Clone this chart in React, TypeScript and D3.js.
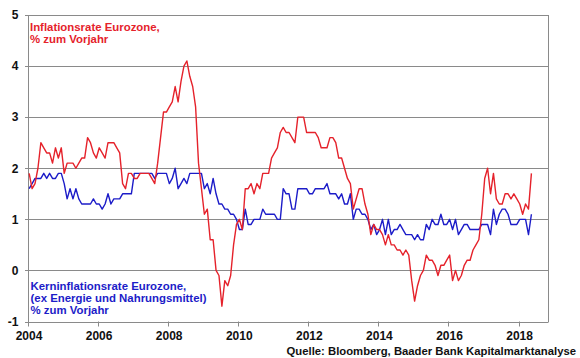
import React from "react";
import * as d3 from "d3";

// Monthly values, Jan 2004 .. May 2018
const startYear = 2004;
const headline: number[] = [
  1.9, 1.6, 1.7, 2.0, 2.5, 2.4, 2.3, 2.3, 2.1, 2.4, 2.2, 2.4,
  1.9, 2.1, 2.1, 2.1, 2.0, 2.1, 2.2, 2.2, 2.6, 2.5, 2.3, 2.2,
  2.4, 2.3, 2.2, 2.5, 2.5, 2.5, 2.4, 2.3, 1.7, 1.6, 1.9, 1.9,
  1.8, 1.8, 1.9, 1.9, 1.9, 1.9, 1.8, 1.7, 2.1, 2.6, 3.1, 3.1,
  3.2, 3.3, 3.6, 3.3, 3.7, 4.0, 4.1, 3.8, 3.6, 3.2, 2.1, 1.6,
  1.1, 1.2, 0.6, 0.6, 0.0, -0.1, -0.7, -0.2, -0.3, -0.1, 0.5, 0.9,
  1.0, 0.8, 1.6, 1.6, 1.7, 1.5, 1.7, 1.6, 1.9, 1.9, 1.9, 2.2,
  2.3, 2.4, 2.7, 2.8, 2.7, 2.7, 2.6, 2.5, 3.0, 3.0, 3.0, 2.7,
  2.7, 2.7, 2.7, 2.6, 2.4, 2.4, 2.4, 2.6, 2.6, 2.5, 2.2, 2.2,
  2.0, 1.8, 1.7, 1.2, 1.4, 1.6, 1.6, 1.3, 1.1, 0.7, 0.9, 0.8,
  0.8, 0.7, 0.5, 0.7, 0.5, 0.5, 0.4, 0.4, 0.3, 0.4, 0.3, -0.2,
  -0.6, -0.3, -0.1, 0.0, 0.3, 0.2, 0.2, 0.1, -0.1, 0.1, 0.1, 0.2,
  0.3, -0.2, 0.0, -0.2, -0.1, 0.1, 0.2, 0.2, 0.4, 0.5, 0.6, 1.1,
  1.8, 2.0, 1.5, 1.9, 1.4, 1.3, 1.3, 1.5, 1.5, 1.4, 1.5, 1.4,
  1.3, 1.1, 1.3, 1.2, 1.9,
];
const core: number[] = [
  1.6, 1.7, 1.8, 1.8, 1.8, 1.9, 1.8, 1.9, 1.8, 1.8, 1.9, 1.9,
  1.7, 1.4, 1.6, 1.4, 1.6, 1.4, 1.3, 1.3, 1.3, 1.3, 1.4, 1.3,
  1.3, 1.2, 1.3, 1.5, 1.3, 1.4, 1.4, 1.4, 1.5, 1.5, 1.5, 1.5,
  1.9, 1.9, 1.9, 1.9, 1.9, 1.9, 1.9, 1.8, 1.9, 1.9, 1.9, 1.9,
  1.7, 1.8, 2.0, 1.6, 1.7, 1.8, 1.7, 1.9, 1.9, 1.9, 1.9, 1.9,
  1.6, 1.7, 1.5, 1.8, 1.5, 1.3, 1.3, 1.2, 1.2, 1.1, 1.1, 1.0,
  0.8, 0.8, 1.2, 0.9, 0.9, 1.0, 1.0, 1.0, 1.2, 1.1, 1.1, 1.1,
  1.1, 1.0, 1.0, 1.6, 1.5, 1.5, 1.2, 1.2, 1.6, 1.6, 1.6, 1.6,
  1.5, 1.5, 1.6, 1.6, 1.6, 1.6, 1.7, 1.5, 1.5, 1.5, 1.4, 1.5,
  1.3, 1.3, 1.5, 1.0, 1.2, 1.2, 1.1, 1.1, 1.0, 0.8, 0.9, 0.7,
  0.8, 1.0, 0.7, 1.0, 0.7, 0.8, 0.8, 0.9, 0.8, 0.7, 0.7, 0.7,
  0.6, 0.7, 0.6, 0.6, 0.9, 0.8, 1.0, 0.9, 0.9, 1.1, 0.9, 0.9,
  1.0, 0.8, 1.0, 0.7, 0.8, 0.9, 0.9, 0.8, 0.8, 0.8, 0.8, 0.9,
  0.9, 0.9, 0.7, 1.2, 0.9, 1.1, 1.2, 1.2, 1.1, 0.9, 0.9, 0.9,
  1.0, 1.0, 1.0, 0.7, 1.1,
];
const yTicks: number[] = [-1, 0, 1, 2, 3, 4, 5];
const xTicks: number[] = [2004, 2006, 2008, 2010, 2012, 2014, 2016, 2018];
const redLabel: string[] = ["Inflationsrate Eurozone,", "% zum Vorjahr"];
const blueLabel: string[] = [
  "Kerninflationsrate Eurozone,",
  "(ex Energie und Nahrungsmittel)",
  "% zum Vorjahr",
];
const source = "Quelle: Bloomberg, Baader Bank Kapitalmarktanalyse";

const RED = "#e5222b";
const BLUE = "#1c1cc8";
const GRID = "#8a8a8a";
const FONT = "'Liberation Sans', Arial, sans-serif";

export default function App() {
  const W = 580, H = 358;
  const left = 28, right = 548, top = 15, bottom = 321.5;
  const x = d3.scaleLinear().domain([2004, 2018.84]).range([left, right]);
  const y = d3.scaleLinear().domain([-1, 5]).range([bottom, top]);
  const tOf = (i: number) => startYear + (i + 0.4) / 12;
  const line = d3
    .line<number>()
    .x((_, i) => x(tOf(i)))
    .y((d) => y(d));

  return (
    <svg
      width={W}
      height={H}
      style={{ position: "absolute", left: 0, top: 0, background: "#fff" }}
      fontFamily={FONT}
      fontWeight="bold"
    >
      <rect x={0} y={0} width={W} height={H} fill="#fff" />
      {/* gridlines */}
      {yTicks.map((t) => (
        <line
          key={"g" + t}
          x1={left - 3}
          x2={right}
          y1={Math.round(y(t)) + 0.5}
          y2={Math.round(y(t)) + 0.5}
          stroke={GRID}
          strokeWidth={1}
        />
      ))}
      {/* frame */}
      <line x1={left + 0.5} x2={left + 0.5} y1={top} y2={bottom + 1} stroke={GRID} />
      <line x1={right + 0.5} x2={right + 0.5} y1={top} y2={bottom + 1} stroke={GRID} />
      {/* x ticks */}
      {xTicks.map((t) => (
        <line
          key={"xt" + t}
          x1={Math.round(x(t)) + 0.5}
          x2={Math.round(x(t)) + 0.5}
          y1={bottom}
          y2={bottom + 5}
          stroke={GRID}
        />
      ))}
      {/* series */}
      <path d={line(core) || ""} fill="none" stroke={BLUE} strokeWidth={1.4} strokeLinejoin="round" />
      <path d={line(headline) || ""} fill="none" stroke={RED} strokeWidth={1.4} strokeLinejoin="round" />
      {/* y labels */}
      {yTicks.map((t) => (
        <text key={"yl" + t} x={18.5} y={y(t) + 4.3} textAnchor="end" fontSize={12} fill="#111">
          {t}
        </text>
      ))}
      {/* x labels */}
      {xTicks.map((t) => (
        <text key={"xl" + t} x={x(t) + 1} y={339.5} textAnchor="middle" fontSize={12} fill="#111">
          {t}
        </text>
      ))}
      {/* annotations */}
      {redLabel.map((s, i) => (
        <text key={"r" + i} x={30} y={31 + i * 12.3} fontSize={11.4} fill={RED}>
          {s}
        </text>
      ))}
      {blueLabel.map((s, i) => (
        <text key={"b" + i} x={30.5} y={289.5 + i * 12} fontSize={11.4} fill={BLUE}>
          {s}
        </text>
      ))}
      <text x={576} y={354.5} textAnchor="end" fontSize={11.3} fill="#111">
        {source}
      </text>
    </svg>
  );
}
